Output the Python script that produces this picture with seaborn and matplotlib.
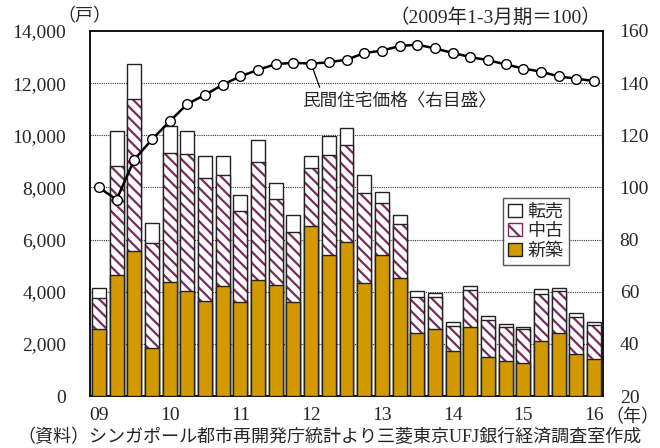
import numpy as np
import pandas as pd
import matplotlib
matplotlib.use("Agg")
import matplotlib.pyplot as plt
from matplotlib.patches import Patch
import seaborn as sns

# Quarterly private housing transactions (units) and private housing price index
quarters = [f"{y}Q{q}" for y in range(2009, 2017) for q in range(1, 5)][:29]
new_sales = [2580, 4650, 5580, 1850, 4380, 4020, 3625, 4230, 3590, 4440, 4250, 3590,
             6520, 5390, 5920, 4350, 5400, 4530, 2425, 2555, 1725, 2655, 1505, 1355,
             1275, 2105, 2400, 1595, 1405]
secondary = [1160, 4170, 5820, 4010, 4950, 5270, 4750, 4250, 3520, 4535, 3305, 2700,
             2225, 3850, 3715, 3450, 2015, 2080, 1390, 1225, 955, 1405, 1405, 1300,
             1280, 1825, 1635, 1445, 1315]
resale = [420, 1330, 1340, 780, 1010, 880, 815, 720, 610, 825, 625, 655,
          445, 715, 640, 660, 395, 345, 205, 165, 140, 140, 155, 100,
          100, 165, 125, 150, 125]
price_index = [100.0, 95.3, 110.6, 118.4, 125.3, 132.0, 135.5, 139.4, 142.6, 145.1,
               147.3, 147.8, 147.5, 148.0, 149.0, 151.5, 152.5, 154.2, 154.8, 153.3,
               151.6, 150.0, 148.8, 147.2, 145.6, 144.4, 142.6, 141.7, 140.8]
year_labels = ["09", "10", "11", "12", "13", "14", "15", "16"]

df = pd.DataFrame({"quarter": quarters, "new": new_sales,
                   "secondary": secondary, "resale": resale,
                   "price": price_index})
df["pos"] = np.arange(len(df))
df["new_sec"] = df["new"] + df["secondary"]
df["total"] = df["new_sec"] + df["resale"]

sns.set_theme(style="white")
plt.rcParams["hatch.linewidth"] = 1.6
serif_jp = ["Liberation Serif", "Noto Sans CJK JP"]
sans_jp = ["Noto Sans CJK JP", "DejaVu Sans"]
plt.rcParams["font.family"] = serif_jp

GOLD = "#D29A00"
MAROON = "#7B2A5E"
EDGE = "#222222"
HATCH = "\\\\\\"

fig = plt.figure(figsize=(6.6, 4.48), dpi=100)
ax = fig.add_axes([90 / 660, 52 / 448, 513 / 660, 365 / 448])

# stacked bars drawn as overlapping cumulative layers
sns.barplot(data=df, x="quarter", y="total", color="white", saturation=1,
            width=0.79, edgecolor=EDGE, linewidth=1.0, ax=ax, zorder=2)
sns.barplot(data=df, x="quarter", y="new_sec", color="white", saturation=1,
            width=0.79, edgecolor=MAROON, linewidth=0, hatch=HATCH, ax=ax, zorder=3)
sns.barplot(data=df, x="quarter", y="new_sec", color=EDGE, fill=False,
            width=0.79, linewidth=1.0, ax=ax, zorder=4)
sns.barplot(data=df, x="quarter", y="new", color=GOLD, saturation=1,
            width=0.79, edgecolor=EDGE, linewidth=1.0, ax=ax, zorder=5)

ax.set_xlim(-0.5, len(df) - 0.5)
ax.set_ylim(0, 14000)
ax.set_yticks(np.arange(0, 14001, 2000))
ax.set_yticklabels([f"{v:,}" for v in range(0, 14001, 2000)])
ax.set_xticks(np.arange(0, len(df), 4))
ax.set_xticklabels(year_labels)
ax.set_xticks(np.arange(-0.5, len(df), 4), minor=True)
ax.tick_params(axis="x", which="major", length=0, pad=8, labelsize=14)
ax.tick_params(axis="x", which="minor", direction="inout", length=9, width=1.0, color="black")
ax.tick_params(axis="y", length=0, pad=17, labelsize=14)
ax.set_xlabel("")
ax.set_ylabel("")
for yv in range(2000, 14000, 2000):
    ax.axhline(yv, color="#333333", linestyle=(0, (1, 1)), linewidth=0.8, zorder=1)
for s in ax.spines.values():
    s.set_color("black")
    s.set_linewidth(1.3)

# price index on the right-hand scale
ax2 = ax.twinx()
sns.lineplot(data=df, x="pos", y="price", color="black", linewidth=1.8,
             marker="o", markersize=7, markerfacecolor="white",
             markeredgecolor="black", markeredgewidth=1.0, ax=ax2, zorder=6)
ax2.set_ylim(20, 160)
ax2.set_yticks(np.arange(20, 161, 20))
ax2.tick_params(axis="y", length=0, pad=12, labelsize=14)
ax2.set_xlim(-0.5, len(df) - 0.5)
ax2.set_xlabel("")
ax2.set_ylabel("")
ax2.grid(False)
for s in ax2.spines.values():
    s.set_visible(False)

ax2.annotate("民間住宅価格〈右目盛〉", xy=(12, price_index[12]),
             xytext=(11.48, 133.2), textcoords="data",
             ha="left", va="center", fontsize=12.7, family=sans_jp,
             arrowprops=dict(arrowstyle="-", color="black", lw=0.9,
                             relpos=(0.1, 1.0), shrinkA=1, shrinkB=4))

handles = [Patch(facecolor="white", edgecolor=EDGE, linewidth=1.0, label="転売"),
           Patch(facecolor="white", edgecolor=MAROON, hatch="\\\\", linewidth=1.0, label="中古"),
           Patch(facecolor=GOLD, edgecolor=EDGE, linewidth=1.0, label="新築")]
leg = ax2.legend(handles=handles, loc="upper left",
                 bbox_to_anchor=(503 / 660, 1 - 198 / 448),
                 bbox_transform=fig.transFigure,
                 prop={"family": serif_jp, "size": 13},
                 handlelength=0.75, handleheight=0.75, handletextpad=0.3,
                 labelspacing=0.15, borderpad=0.3, borderaxespad=0,
                 fancybox=False, framealpha=1, edgecolor="#555555")
leg.get_frame().set_linewidth(1.0)

fig.text(84 / 660, 1 - 17 / 448, "（戸）", ha="center", va="center", fontsize=13)
fig.text(601 / 660, 1 - 17 / 448, "（2009年1-3月期＝100）", ha="right", va="center", fontsize=14)
fig.text(605 / 660, 1 - 418 / 448, "（年）", ha="left", va="center", fontsize=13)
fig.text(330 / 660, 1 - 437 / 448,
         "（資料）シンガポール都市再開発庁統計より三菱東京UFJ銀行経済調査室作成",
         ha="center", va="center", fontsize=13)

fig.savefig("out.png", dpi=100)
